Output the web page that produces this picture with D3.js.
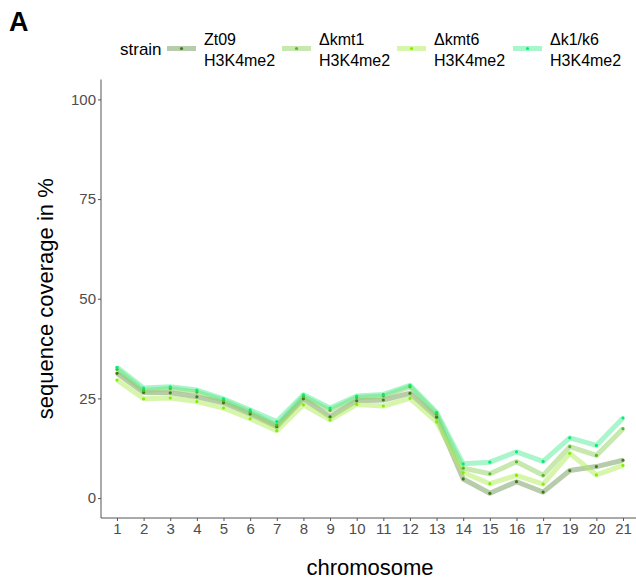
<!DOCTYPE html>
<html>
<head>
<meta charset="utf-8">
<script src="https://cdn.jsdelivr.net/npm/d3@7"></script>
<style>
  body { margin: 0; background: #fff; }
  svg { font-family: "Liberation Sans", Arial, sans-serif; }
</style>
</head>
<body>
<svg id="chart" width="636" height="583"></svg>
<script>
// chromosome categories (no 18)
const chromosomes = ["1","2","3","4","5","6","7","8","9","10","11","12","13","14","15","16","17","19","20","21"];

// sequence coverage in % per strain
const zt09 = [31.3, 26.5, 26.4, 25.4, 23.9, 21.1, 17.9, 24.9, 20.4, 24.4, 24.6, 26.3, 20.3, 4.8, 1.2, 4.1, 1.5, 6.9, 7.9, 9.5];
const kmt1 = [32.3, 27.0, 27.5, 26.6, 24.5, 21.6, 18.3, 25.5, 22.0, 25.2, 25.6, 27.9, 21.0, 7.5, 6.1, 9.1, 5.7, 12.9, 10.7, 17.4];
const kmt6 = [29.6, 24.9, 25.1, 24.2, 22.6, 19.9, 16.9, 23.4, 19.6, 23.5, 23.1, 25.0, 19.1, 6.4, 3.6, 5.7, 3.5, 11.2, 5.8, 8.2];
const k1k6 = [32.8, 27.6, 27.9, 27.1, 24.9, 22.1, 19.2, 25.9, 22.6, 25.6, 26.0, 28.3, 21.5, 8.6, 9.0, 11.6, 9.2, 15.1, 13.2, 20.1];

const strainNames = ["Zt09", "\u0394kmt1", "\u0394kmt6", "\u0394k1/k6"];
const yTicks = [0, 25, 50, 75, 100];

const lineColors = ["#6f9a55", "#8fd160", "#b0ee5a", "#55ee99"];
const pointColors = ["#3d7a1a", "#55b820", "#80ee00", "#00ee77"];

const series = [zt09, kmt1, kmt6, k1k6].map((vals, i) => ({
  name: strainNames[i],
  line: lineColors[i],
  point: pointColors[i],
  values: vals.map((v, j) => ({ chr: chromosomes[j], v: v }))
}));

const svg = d3.select("#chart");

// panel bounds
const pLeft = 101, pRight = 639, pTop = 79.5, pBottom = 518;

const x = d3.scalePoint()
  .domain(chromosomes)
  .range([pLeft, pRight])
  .padding(0.6);

const y = d3.scaleLinear()
  .domain([-5, 105])
  .range([pBottom, pTop]);

// y axis
const yAxis = svg.append("g")
  .attr("transform", `translate(${pLeft},0)`)
  .call(d3.axisLeft(y).tickValues(yTicks).tickSize(3).tickPadding(2));
yAxis.select(".domain").attr("d", `M0,${pTop}V${pBottom}`).attr("stroke", "#555");
yAxis.selectAll(".tick line").attr("stroke", "#555");
yAxis.selectAll(".tick text").attr("fill", "#4d4d4d").style("font-size", "15px");

// x axis
const xAxis = svg.append("g")
  .attr("transform", `translate(0,${pBottom})`)
  .call(d3.axisBottom(x).tickSize(3).tickPadding(2));
xAxis.select(".domain").attr("d", `M${pLeft},0H${pRight}`).attr("stroke", "#555");
xAxis.selectAll(".tick line").attr("stroke", "#555");
xAxis.selectAll(".tick text").attr("fill", "#4d4d4d").style("font-size", "15px");

// lines
const line = d3.line()
  .x(d => x(d.chr))
  .y(d => y(d.v));

series.forEach(s => {
  svg.append("path")
    .datum(s.values)
    .attr("fill", "none")
    .attr("stroke", s.line)
    .attr("stroke-opacity", 0.5)
    .attr("stroke-width", 5)
    .attr("stroke-linejoin", "round")
    .attr("d", line);
});

series.forEach(s => {
  svg.append("g")
    .selectAll("circle")
    .data(s.values)
    .join("circle")
    .attr("cx", d => x(d.chr))
    .attr("cy", d => y(d.v))
    .attr("r", 1.6)
    .attr("fill", s.point);
});

// axis titles
svg.append("text")
  .attr("x", 370)
  .attr("y", 575)
  .attr("text-anchor", "middle")
  .style("font-size", "22px")
  .attr("fill", "#000")
  .text("chromosome");

svg.append("text")
  .attr("transform", `translate(53,${(pTop + pBottom) / 2}) rotate(-90)`)
  .attr("text-anchor", "middle")
  .style("font-size", "22px")
  .attr("fill", "#000")
  .text("sequence coverage in %");

// panel label
svg.append("text")
  .attr("x", 9)
  .attr("y", 31)
  .style("font-size", "27px")
  .style("font-weight", "bold")
  .text("A");

// legend
const legend = svg.append("g");
legend.append("text")
  .attr("x", 120)
  .attr("y", 55)
  .style("font-size", "17px")
  .text("strain");

const keyX = [167, 282, 397, 513];
series.forEach((s, i) => {
  const g = legend.append("g").attr("transform", `translate(${keyX[i]},0)`);
  g.append("line")
    .attr("x1", 0).attr("x2", 29)
    .attr("y1", 48.5).attr("y2", 48.5)
    .attr("stroke", s.line)
    .attr("stroke-opacity", 0.5)
    .attr("stroke-width", 5);
  g.append("circle")
    .attr("cx", 14.5).attr("cy", 48.5).attr("r", 1.6)
    .attr("fill", s.point);
  g.append("text")
    .attr("x", 37).attr("y", 45)
    .style("font-size", "16px")
    .text(s.name);
  g.append("text")
    .attr("x", 37).attr("y", 66)
    .style("font-size", "16px")
    .text("H3K4me2");
});
</script>
</body>
</html>
